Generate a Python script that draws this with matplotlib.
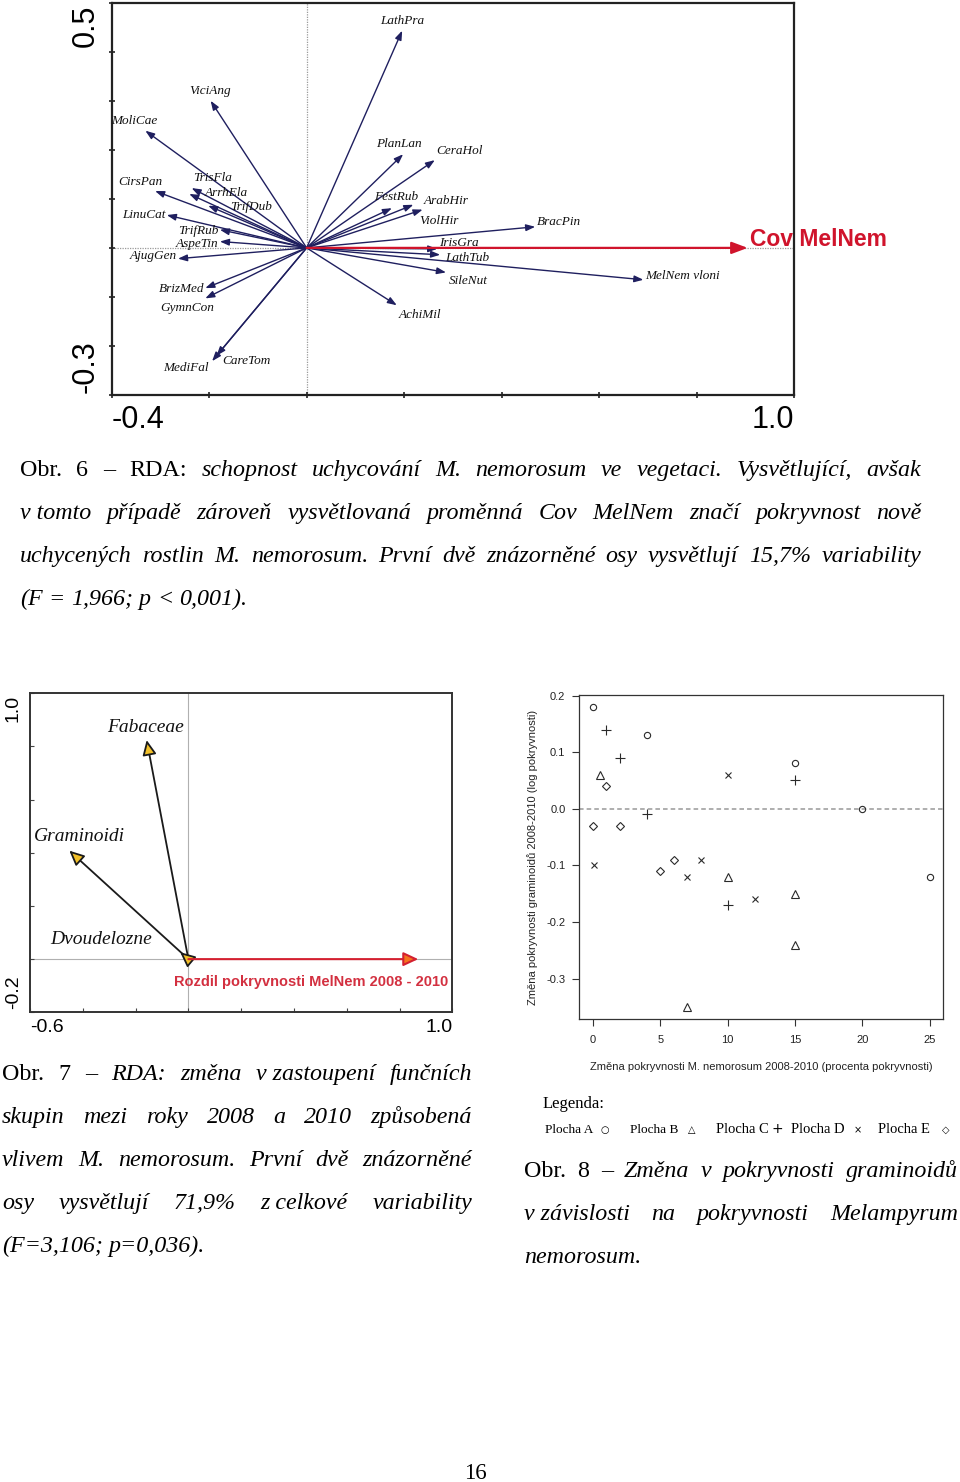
import matplotlib
matplotlib.use("Agg")
import matplotlib.pyplot as plt
import numpy as np

W, H = 960, 1482
plt.rcParams["axes.unicode_minus"] = False

SERIF = ["Liberation Serif", "DejaVu Serif"]
SANS = ["Liberation Sans", "DejaVu Sans"]

# ---- Obr. 6: RDA species arrows ----
species = ["LathPra", "ViciAng", "MoliCae", "CirsPan", "TrisFla", "ArrhEla",
           "TrifDub", "LinuCat", "TrifRub", "AspeTin", "AjugGen", "BrizMed",
           "GymnCon", "MediFal", "CareTom", "PlanLan", "CeraHol", "FestRub",
           "ArabHir", "ViolHir", "BracPin", "IrisGra", "LathTub", "SileNut",
           "AchiMil", "MelNem vloni"]
species_x = [0.196, -0.197, -0.331, -0.311, -0.236, -0.241, -0.202, -0.287,
             -0.178, -0.178, -0.264, -0.208, -0.208, -0.194, -0.185, 0.198,
             0.263, 0.175, 0.219, 0.238, 0.469, 0.268, 0.274, 0.286, 0.185,
             0.691]
species_y = [0.443, 0.300, 0.239, 0.116, 0.122, 0.110, 0.086, 0.067, 0.037,
             0.013, -0.022, -0.082, -0.103, -0.231, -0.220, 0.191, 0.179,
             0.081, 0.088, 0.078, 0.043, -0.002, -0.014, -0.050, -0.117,
             -0.065]
cov_name = "Cov MelNem"
cov_x, cov_y = 0.905, 0.0

# label offsets in pixels (dx, dy up)
species_offsets = [(0, 10), (-1, 10), (-11, 10), (-15, 9), (21, 10), (37, 1),
                   (43, -1), (-23, 0), (-22, -1), (-23, -2), (-25, 3), (-24, -1),
                   (-18, -10), (-26, -7), (30, -5), (-4, 10), (25, 9), (4, 11),
                   (33, 4), (16, -11), (24, 5), (22, 6), (27, -3), (22, -9),
                   (23, -10), (39, 4)]

# ---- Obr. 7: functional groups ----
groups = ["Fabaceae", "Graminoidi", "Dvoudelozne"]
groups_x = [-0.158, -0.451, -0.031]
groups_y = [0.824, 0.408, 0.026]
group_offsets = [(-1, 13), (10, 14), (-79, 13)]
diff_name = "Rozdil pokryvnosti MelNem 2008 - 2010"
diff_x, diff_y = 0.871, 0.0

# ---- Obr. 8: scatter ----
plocha_a_x = [0, 4, 15, 20, 25]
plocha_a_y = [0.18, 0.13, 0.08, 0.0, -0.12]
plocha_b_x = [0.5, 7, 10, 15, 15]
plocha_b_y = [0.06, -0.35, -0.12, -0.15, -0.24]
plocha_c_x = [1, 2, 4, 10, 15]
plocha_c_y = [0.14, 0.09, -0.01, -0.17, 0.05]
plocha_d_x = [0.1, 7, 8, 10, 12]
plocha_d_y = [-0.10, -0.12, -0.09, 0.06, -0.16]
plocha_e_x = [0, 1, 2, 5, 6]
plocha_e_y = [-0.03, 0.04, -0.03, -0.11, -0.09]

fig = plt.figure(figsize=(W / 100, H / 100), dpi=100)
fig.patch.set_facecolor("white")


def add_axes_px(x0, y0, x1, y1):
    return fig.add_axes([x0 / W, 1 - y1 / H, (x1 - x0) / W, (y1 - y0) / H])


def fx(px):
    return px / W


def fy(py):
    return 1 - py / H


# ================= Obr. 6 =================
ax1 = add_axes_px(111.7, 2.7, 794, 395)
ax1.set_xlim(-0.4, 1.0)
ax1.set_ylim(-0.3, 0.5)
ax1.set_xticks(np.arange(-0.4, 1.01, 0.2))
ax1.set_yticks(np.arange(-0.3, 0.51, 0.1))
ax1.set_xticklabels([])
ax1.set_yticklabels([])
ax1.tick_params(direction="inout", length=5, width=1.2, color="#222")
for s in ax1.spines.values():
    s.set_linewidth(1.6)
    s.set_color("#222")
ax1.axhline(0, color="#9a9a9a", lw=0.9, ls=(0, (1, 1)), zorder=0)
ax1.axvline(0, color="#9a9a9a", lw=0.9, ls=(0, (1, 1)), zorder=0)

navy = "#1f1f5f"
for name, x, y, off in zip(species, species_x, species_y, species_offsets):
    ax1.annotate("", xy=(x, y), xytext=(0, 0),
                 arrowprops=dict(arrowstyle="-|>,head_length=0.6,head_width=0.22",
                                 color=navy, lw=1.0, shrinkA=0, shrinkB=0,
                                 mutation_scale=9))
    ax1.annotate(name, xy=(x, y), xytext=off, textcoords="offset pixels",
                 ha="center", va="center", fontsize=9.5, style="italic",
                 family=SERIF, color="#111")

ax1.annotate("", xy=(cov_x, cov_y), xytext=(0, 0),
             arrowprops=dict(arrowstyle="-|>,head_length=0.8,head_width=0.3",
                             color="#d0142c", lw=1.6, shrinkA=0, shrinkB=0,
                             mutation_scale=12))
ax1.annotate(cov_name, xy=(cov_x, cov_y), xytext=(71, 8), textcoords="offset pixels",
             ha="center", va="center", fontsize=16.5, fontweight="bold",
             family=SANS, color="#d0142c", annotation_clip=False)

ax1.text(0, -0.025, "-0.4", transform=ax1.transAxes, ha="left", va="top",
         fontsize=22, family=SANS)
ax1.text(1, -0.025, "1.0", transform=ax1.transAxes, ha="right", va="top",
         fontsize=22, family=SANS)
ax1.text(-0.016, 0.995, "0.5", transform=ax1.transAxes, ha="right", va="top",
         rotation=90, fontsize=22, family=SANS)
ax1.text(-0.016, 0.005, "-0.3", transform=ax1.transAxes, ha="right", va="bottom",
         rotation=90, fontsize=22, family=SANS)

# ================= Obr. 7 =================
ax2 = add_axes_px(30, 693.3, 452.3, 1012.3)
ax2.set_xlim(-0.6, 1.0)
ax2.set_ylim(-0.2, 1.0)
ax2.set_xticks(np.arange(-0.6, 1.01, 0.2))
ax2.set_yticks(np.arange(-0.2, 1.01, 0.2))
ax2.set_xticklabels([])
ax2.set_yticklabels([])
ax2.tick_params(direction="in", length=3, width=0.8, color="#444")
for s in ax2.spines.values():
    s.set_linewidth(1.4)
    s.set_color("#333")
ax2.axhline(0, color="#b0b0b0", lw=0.8, zorder=0)
ax2.axvline(0, color="#b0b0b0", lw=0.8, zorder=0)

for name, x, y, off in zip(groups, groups_x, groups_y, group_offsets):
    ax2.annotate("", xy=(x, y), xytext=(0, 0),
                 arrowprops=dict(arrowstyle="-|>,head_length=0.6,head_width=0.28",
                                 fc="#f2c02a", ec="#1a1a1a", lw=1.3, shrinkA=0,
                                 shrinkB=0, mutation_scale=15))
    ax2.annotate(name, xy=(x, y), xytext=off, textcoords="offset pixels",
                 ha="center", va="center", fontsize=14, style="italic",
                 family=SERIF, color="#111")

ax2.annotate("", xy=(diff_x, diff_y), xytext=(0, 0),
             arrowprops=dict(arrowstyle="-|>,head_length=0.6,head_width=0.28",
                             fc="#f5741e", ec="#d42030", lw=1.5, shrinkA=0,
                             shrinkB=0, mutation_scale=15))
ax2.annotate(diff_name, xy=(diff_x, diff_y), xytext=(-107, -23),
             textcoords="offset pixels", ha="center", va="center",
             fontsize=10.5, fontweight="bold", family=SANS, color="#d33040")

ax2.text(0, -0.02, "-0.6", transform=ax2.transAxes, ha="left", va="top",
         fontsize=14, family=SANS)
ax2.text(1, -0.02, "1.0", transform=ax2.transAxes, ha="right", va="top",
         fontsize=14, family=SANS)
ax2.text(-0.019, 0.995, "1.0", transform=ax2.transAxes, ha="right", va="top",
         rotation=90, fontsize=14, family=SANS)
ax2.text(-0.019, 0.01, "-0.2", transform=ax2.transAxes, ha="right", va="bottom",
         rotation=90, fontsize=14, family=SANS)

# ================= Obr. 8 =================
ax3 = add_axes_px(579.3, 695, 943.3, 1018.7)
ax3.set_xlim(-1, 26)
ax3.set_ylim(-0.371, 0.201)
ax3.set_xticks([0, 5, 10, 15, 20, 25])
ax3.set_yticks([-0.3, -0.2, -0.1, 0.0, 0.1, 0.2])
ax3.set_yticklabels(["%.1f" % v for v in [-0.3, -0.2, -0.1, 0.0, 0.1, 0.2]])
ax3.tick_params(direction="out", length=5, width=0.8, color="#333",
                labelsize=8, labelcolor="#222")
ax3.tick_params(axis="y", pad=5)
ax3.tick_params(axis="x", pad=7)
for lab in ax3.get_xticklabels() + ax3.get_yticklabels():
    lab.set_family(SANS)
for s in ax3.spines.values():
    s.set_linewidth(0.9)
    s.set_color("#333")
ax3.axhline(0, color="#999", lw=1.1, ls=(0, (3, 2)), zorder=0)

mk = dict(ls="none", color="#2a2a2a", mfc="none", mew=0.8)
ax3.plot(plocha_a_x, plocha_a_y, marker="o", ms=4.5, **mk)
ax3.plot(plocha_b_x, plocha_b_y, marker="^", ms=5.8, **mk)
ax3.plot(plocha_c_x, plocha_c_y, marker="+", ms=7, **mk)
ax3.plot(plocha_d_x, plocha_d_y, marker="x", ms=4.8, **mk)
ax3.plot(plocha_e_x, plocha_e_y, marker="D", ms=4.5, **mk)

fig.text(fx(533), fy(857), "Změna pokryvnosti graminoidů 2008-2010 (log pokryvnosti)",
         rotation=90, ha="center", va="center", fontsize=8, family=SANS,
         color="#222")
fig.text(fx(761), fy(1067), "Změna pokryvnosti M. nemorosum 2008-2010 (procenta pokryvnosti)",
         ha="center", va="center", fontsize=8, family=SANS, color="#222")

# legend as typed on the page
fig.text(fx(543), fy(1108), "Legenda:", fontsize=12, family=SERIF, va="baseline")
legend_items = [("Plocha A", 545, 9.5, "○", 605), ("Plocha B", 630, 9.5, "△", 692),
                ("Plocha C", 716, 10.5, "+", 777), ("Plocha D", 791, 10.5, "×", 858),
                ("Plocha E", 878, 10.5, "◇", 946)]
for lab, x, size, sym, sx in legend_items:
    fig.text(fx(x), fy(1133), lab, fontsize=size, family=SERIF, va="baseline")
    fig.text(fx(sx), fy(1133), sym, fontsize=7 if sym != "+" else 10,
             family=["DejaVu Sans"], va="baseline", ha="center")

# ================= captions =================
renderer = fig.canvas.get_renderer()
CAP_SIZE = 17.3


def put_line(text, n_roman, x0, x1, y, justify=True):
    words = text.split(" ")
    objs = []
    for i, w in enumerate(words):
        t = fig.text(0, fy(y), w.replace("~", " "), fontsize=CAP_SIZE, family=SERIF,
                     style="normal" if i < n_roman else "italic", va="baseline")
        objs.append(t)
    widths = [t.get_window_extent(renderer).width for t in objs]
    if justify and len(objs) > 1:
        gap = (x1 - x0 - sum(widths)) / (len(objs) - 1)
    else:
        gap = CAP_SIZE * 100 / 72 * 0.25
    x = x0
    for t, w in zip(objs, widths):
        t.set_x(fx(x))
        x += w + gap


cap6 = ["Obr. 6 – RDA: schopnost uchycování M. nemorosum ve vegetaci. Vysvětlující, avšak",
        "v~tomto případě zároveň vysvětlovaná proměnná Cov MelNem značí pokryvnost nově",
        "uchycených rostlin M. nemorosum. První dvě znázorněné osy vysvětlují 15,7% variability",
        "(F = 1,966; p < 0,001)."]
cap7 = ["Obr. 7 – RDA: změna v~zastoupení funčních",
        "skupin mezi roky 2008 a 2010 způsobená",
        "vlivem M. nemorosum. První dvě znázorněné",
        "osy vysvětlují 71,9% z~celkové variability",
        "(F=3,106; p=0,036)."]
cap8 = ["Obr. 8 – Změna v pokryvnosti graminoidů",
        "v~závislosti na pokryvnosti Melampyrum",
        "nemorosum."]

for i, line in enumerate(cap6):
    put_line(line, 4 if i == 0 else 0, 20, 921, 476 + 43 * i, justify=i < len(cap6) - 1)
for i, line in enumerate(cap7):
    put_line(line, 3 if i == 0 else 0, 2, 472, 1080 + 43 * i, justify=i < len(cap7) - 1)
for i, line in enumerate(cap8):
    put_line(line, 3 if i == 0 else 0, 524, 958, 1177 + 43 * i, justify=i < len(cap8) - 1)

fig.text(fx(475), fy(1479), "16", fontsize=16.5, family=SERIF, ha="center", va="baseline")

fig.savefig("out.png", dpi=100, facecolor="white")
